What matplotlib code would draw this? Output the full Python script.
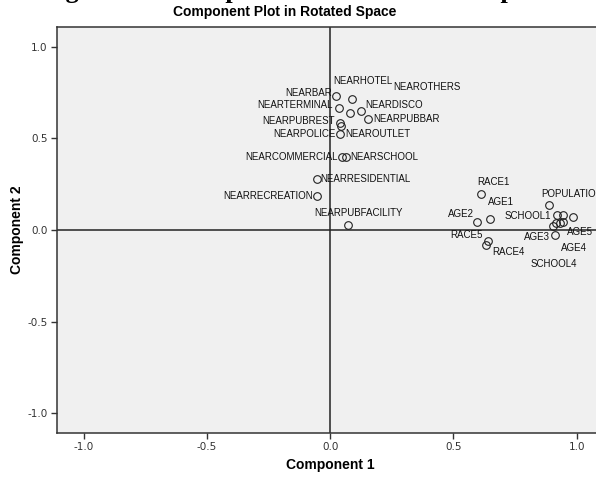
import matplotlib
matplotlib.use("Agg")
import matplotlib.pyplot as plt

# component loadings
names = ["NEARBAR", "NEARHOTEL", "NEARTERMINAL", "NEARDISCO", "NEAROTHERS",
         "NEARPUBBAR", "NEARPUBREST", "NEAROUTLET", "NEARPOLICE",
         "NEARCOMMERCIAL", "NEARSCHOOL", "NEARRESIDENTIAL", "NEARRECREATION",
         "NEARPUBFACILITY",
         "RACE1", "AGE1", "AGE2", "POPULATION", "SCHOOL1", "AGE3", "AGE5",
         "AGE4", "SCHOOL4", "SCHOOL2", "SCHOOL3", "RACE3", "RACE5", "RACE4"]
comp1 = [0.022, 0.087, 0.034, 0.124, 0.079,
         0.155, 0.039, 0.043, 0.039,
         0.047, 0.063, -0.055, -0.055,
         0.071,
         0.613, 0.647, 0.597, 0.888, 0.922, 0.912, 0.985,
         0.931, 0.944, 0.944, 0.904, 0.918, 0.640, 0.631]
comp2 = [0.731, 0.715, 0.666, 0.649, 0.638,
         0.606, 0.584, 0.567, 0.524,
         0.398, 0.398, 0.278, 0.185,
         0.027,
         0.196, 0.062, 0.045, 0.135, 0.082, -0.029, 0.069,
         0.040, 0.045, 0.082, 0.022, 0.037, -0.060, -0.082]

# label placement (pixels right, pixels up, alignment); None = label hidden
label_pos = [(-4, 3, "right"), (-18, 18, "left"), (-6, 3, "right"),
             (4, 6, "left"), (44, 26, "left"),
             (5, 0, "left"), (-5, 2, "right"), (4, -8, "left"), (-4, 0, "right"),
             (-4, 0, "right"), (4, 0, "left"), (4, 0, "left"), (-4, 0, "right"),
             (-33, 12, "left"),
             (-4, 12, "left"), (-2, 17, "left"), (-3, 8, "right"),
             (-8, 11, "left"), (-6, -1, "right"), (-5, -2, "right"),
             (-6, -15, "left"), (1, -25, "left"), (-32, -42, "left"),
             None, None, None, (-5, 6, "right"), (6, -7, "left")]

fig = plt.figure(figsize=(5.96, 4.78), dpi=100)
ax = fig.add_axes([0.0951, 0.0941, 0.918, 0.8494])
ax.set_facecolor("#f0f0f0")

ax.axhline(0, color="#222222", lw=1.1, zorder=1)
ax.axvline(0, color="#222222", lw=1.1, zorder=1)
ax.plot(comp1, comp2, "o", ms=5.5, mfc="none", mec="#222222", mew=0.8, zorder=3)

for n, x, y, p in zip(names, comp1, comp2, label_pos):
    if p is None:
        continue
    ax.annotate(n, (x, y), xytext=(p[0] * 0.72, p[1] * 0.72),
                textcoords="offset points", ha=p[2], va="center",
                fontsize=7, family="Liberation Sans", color="#111111")

ax.set_xlim(-1.11, 1.11)
ax.set_ylim(-1.107, 1.107)
ticks = [-1.0, -0.5, 0.0, 0.5, 1.0]
ax.set_xticks(ticks)
ax.set_yticks(ticks)
ax.set_xticklabels(["%.1f" % t for t in ticks])
ax.set_yticklabels(["%.1f" % t for t in ticks])
ax.tick_params(direction="out", length=4.5, width=1, color="#333333",
               labelsize=7.5, labelcolor="#333333", pad=2)
for s in ax.spines.values():
    s.set_color("#333333")
    s.set_linewidth(1.1)

ax.set_xlabel("Component 1", fontsize=10, fontweight="bold",
              family="Liberation Sans", va="top")
ax.xaxis.set_label_coords(0.5, -0.0616)
ax.set_ylabel("Component 2", fontsize=10, fontweight="bold",
              family="Liberation Sans")
ax.yaxis.set_label_coords(-0.06, 0.5)

fig.text(0.478, 1 - 12 / 478, "Component Plot in Rotated Space", ha="center",
         va="center", fontsize=10, fontweight="bold", family="Liberation Sans")
# caption of the page, mostly cut off at the top
fig.text(0.07, 1 + 2 / 478, "Figure 4.2: Component Plot in Rotated Space",
         ha="left", va="baseline", fontsize=19, fontweight="bold",
         family="Liberation Serif")

fig.savefig("out.png", dpi=100)
